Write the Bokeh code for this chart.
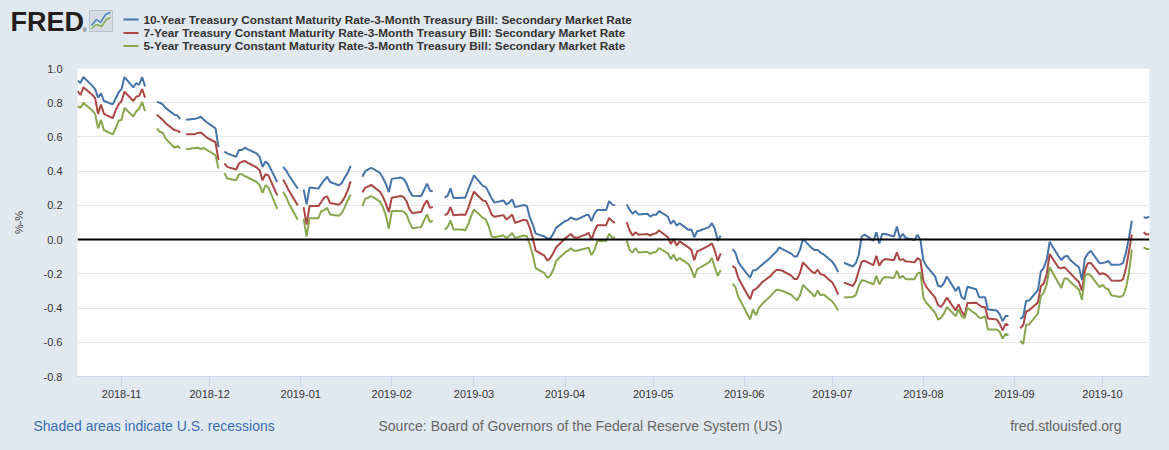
import numpy as np
import pandas as pd
from datetime import datetime
from bokeh.plotting import figure
from bokeh.layouts import column
from bokeh.models import (ColumnDataSource, Range1d, Span, MonthsTicker, FixedTicker,
                          DatetimeTickFormatter, NumeralTickFormatter)
from bokeh.core.properties import value
from bokeh.embed import file_html
from bokeh.resources import INLINE

# ---- data: business-day segments (breaks = bond-market holidays) ----
segments = [("2018-10-17", "2018-11-09"), ("2018-11-13", "2018-11-21"), ("2018-11-23", "2018-12-04"),
            ("2018-12-06", "2018-12-24"), ("2018-12-26", "2018-12-31"), ("2019-01-02", "2019-01-18"),
            ("2019-01-22", "2019-02-15"), ("2019-02-19", "2019-04-18"), ("2019-04-22", "2019-05-24"),
            ("2019-05-28", "2019-07-03"), ("2019-07-05", "2019-08-30"), ("2019-09-03", "2019-10-11"),
            ("2019-10-15", "2019-10-17")]

t10 = [
    [0.93, 0.915, 0.95, 0.90, 0.88, 0.83, 0.855, 0.81, 0.79, 0.825, 0.86, 0.88, 0.95, 0.89, 0.915, 0.905, 0.95, 0.895],
    [0.805, 0.80, 0.79, 0.77, 0.73, 0.725, 0.705],
    [0.70, 0.706, 0.71, 0.718, 0.70, 0.686, 0.65, 0.54],
    [0.514, 0.504, 0.484, 0.524, 0.524, 0.537, 0.527, 0.504, 0.484, 0.425, 0.457, 0.44, 0.337],
    [0.425, 0.405, 0.375, 0.298],
    [0.292, 0.206, 0.304, 0.298, 0.324, 0.347, 0.367, 0.337, 0.318, 0.331, 0.363, 0.39, 0.431],
    [0.367, 0.40, 0.41, 0.42, 0.39, 0.36, 0.325, 0.278, 0.355, 0.363, 0.355, 0.33, 0.285, 0.257, 0.255, 0.29, 0.327, 0.286, 0.282],
    [0.245, 0.255, 0.30, 0.243, 0.245, 0.245, 0.29, 0.333,
     0.376, 0.314, 0.308, 0.275, 0.241, 0.216, 0.229, 0.206, 0.216, 0.235, 0.19, 0.202, 0.196, 0.13, 0.09, 0.035, 0.018, 0.006, 0.006, 0.035, 0.07,
     0.108, 0.114, 0.13, 0.12, 0.117, 0.142, 0.145, 0.108, 0.15, 0.173, 0.173, 0.225, 0.206, 0.2],
    [0.206, 0.175, 0.151, 0.167, 0.147, 0.151, 0.135, 0.145, 0.145, 0.167, 0.135, 0.092, 0.112, 0.082, 0.096, 0.057, 0.059, 0.014, 0.049, 0.053, 0.073, 0.096, 0.063, -0.006, 0.022],
    [-0.056, -0.075, -0.13, -0.157, -0.222, -0.18, -0.178, -0.163, -0.148, -0.104, -0.085, -0.07, -0.045, -0.055,
     -0.082, -0.098, -0.097, -0.06, 0.004, -0.05, -0.061, -0.06, -0.077, -0.085, -0.13, -0.155, -0.19],
    [-0.135, -0.157, -0.137, -0.09, 0.018, 0.029, -0.006, 0.043, -0.022, 0.033, 0.033, 0.018, 0.076, 0.01, 0.033, 0.01,
     -0.002, 0.029, -0.002, -0.122, -0.153, -0.215, -0.27, -0.275, -0.255, -0.215, -0.30, -0.275, -0.335, -0.35, -0.276,
     -0.29, -0.337, -0.337, -0.337, -0.408, -0.414, -0.437, -0.476, -0.447, -0.447],
    [-0.464, -0.45, -0.357, -0.356, -0.295, -0.186, -0.165, -0.117, -0.013, -0.096, -0.119, -0.10, -0.094, -0.119,
     -0.163, -0.236, -0.11, -0.082, -0.065, -0.138, -0.137, -0.133, -0.125, -0.147, -0.145, -0.137, -0.075, 0.01, 0.11],
    [0.131, 0.127, 0.135],
]

t7 = [
    [0.87, 0.845, 0.89, 0.847, 0.827, 0.735, 0.79, 0.735, 0.71, 0.755, 0.79, 0.81, 0.865, 0.81, 0.835, 0.84, 0.88, 0.83],
    [0.73, 0.715, 0.70, 0.68, 0.64, 0.637, 0.627],
    [0.616, 0.616, 0.624, 0.625, 0.612, 0.596, 0.569, 0.465],
    [0.445, 0.425, 0.41, 0.445, 0.455, 0.459, 0.449, 0.421, 0.406, 0.347, 0.382, 0.375, 0.259],
    [0.351, 0.32, 0.285, 0.2],
    [0.19, 0.088, 0.196, 0.196, 0.22, 0.245, 0.253, 0.214, 0.204, 0.22, 0.249, 0.288, 0.341],
    [0.275, 0.304, 0.31, 0.32, 0.28, 0.25, 0.21, 0.161, 0.245, 0.255, 0.249, 0.225, 0.18, 0.155, 0.161, 0.204, 0.229, 0.186, 0.19],
    [0.143, 0.151, 0.19, 0.143, 0.147, 0.143, 0.182, 0.235,
     0.28, 0.229, 0.225, 0.19, 0.147, 0.133, 0.143, 0.118, 0.131, 0.147, 0.098, 0.116, 0.112, 0.069, 0.01, -0.065, -0.094, -0.124, -0.108, -0.078, -0.045,
     0.006, 0.02, 0.033, 0.014, 0.01, 0.029, 0.039, 0.0, 0.049, 0.084, 0.084, 0.127, 0.108, 0.098],
    [0.102, 0.053, 0.024, 0.043, 0.029, 0.033, 0.024, 0.033, 0.037, 0.053, 0.014, -0.025, 0.004, -0.035, -0.01, -0.045, -0.061, -0.12, -0.069, -0.061, -0.035, -0.022, -0.065, -0.124, -0.08],
    [-0.153, -0.167, -0.226, -0.256, -0.349, -0.298, -0.288, -0.271, -0.251, -0.212, -0.192, -0.178, -0.177, -0.182,
     -0.21, -0.23, -0.23, -0.195, -0.133, -0.187, -0.197, -0.176, -0.202, -0.206, -0.251, -0.282, -0.322],
    [-0.251, -0.271, -0.241, -0.182, -0.129, -0.124, -0.149, -0.094, -0.153, -0.124, -0.114, -0.12, -0.075, -0.12, -0.114, -0.127,
     -0.133, -0.108, -0.12, -0.241, -0.276, -0.339, -0.382, -0.394, -0.369, -0.339, -0.414, -0.378, -0.418, -0.447, -0.37,
     -0.369, -0.382, -0.394, -0.394, -0.461, -0.467, -0.492, -0.531, -0.492, -0.50],
    [-0.518, -0.50, -0.42, -0.413, -0.367, -0.273, -0.256, -0.205, -0.084, -0.163, -0.168, -0.161, -0.178, -0.196,
     -0.249, -0.298, -0.18, -0.138, -0.136, -0.202, -0.197, -0.202, -0.217, -0.239, -0.241, -0.232, -0.168, -0.07, 0.03],
    [0.043, 0.029, 0.033],
]

t5 = [
    [0.78, 0.77, 0.80, 0.755, 0.735, 0.65, 0.70, 0.64, 0.615, 0.65, 0.695, 0.70, 0.77, 0.72, 0.75, 0.765, 0.805, 0.75],
    [0.65, 0.63, 0.625, 0.59, 0.537, 0.547, 0.533],
    [0.528, 0.535, 0.537, 0.529, 0.535, 0.524, 0.494, 0.416],
    [0.39, 0.357, 0.347, 0.382, 0.382, 0.371, 0.363, 0.337, 0.318, 0.273, 0.318, 0.305, 0.18],
    [0.28, 0.25, 0.21, 0.116],
    [0.122, 0.018, 0.125, 0.125, 0.167, 0.171, 0.186, 0.147, 0.139, 0.155, 0.19, 0.229, 0.263],
    [0.196, 0.239, 0.245, 0.255, 0.222, 0.19, 0.14, 0.063, 0.167, 0.167, 0.165, 0.147, 0.102, 0.067, 0.073, 0.112, 0.147, 0.102, 0.112],
    [0.059, 0.073, 0.112, 0.059, 0.059, 0.053, 0.088, 0.137,
     0.176, 0.127, 0.118, 0.078, 0.02, 0.014, 0.025, 0.01, 0.02, 0.039, 0.01, 0.024, 0.02, -0.029, -0.088, -0.167, -0.196, -0.225, -0.21, -0.176, -0.124,
     -0.075, -0.065, -0.05, -0.065, -0.065, -0.052, -0.047, -0.09, -0.062, -0.008, -0.008, 0.033, 0.014, 0.01],
    [-0.006, -0.061, -0.075, -0.049, -0.075, -0.071, -0.084, -0.075, -0.071, -0.049, -0.08, -0.114, -0.088, -0.124, -0.108, -0.143, -0.173, -0.222, -0.173, -0.163, -0.133, -0.108, -0.163, -0.212, -0.178],
    [-0.259, -0.278, -0.334, -0.366, -0.467, -0.408, -0.442, -0.40, -0.378, -0.329, -0.31, -0.293, -0.295, -0.30,
     -0.322, -0.339, -0.355, -0.325, -0.265, -0.315, -0.332, -0.298, -0.325, -0.32, -0.362, -0.385, -0.414],
    [-0.339, -0.335, -0.324, -0.271, -0.237, -0.241, -0.261, -0.212, -0.261, -0.231, -0.218, -0.225, -0.182, -0.225, -0.212, -0.231,
     -0.231, -0.198, -0.192, -0.339, -0.369, -0.427, -0.467, -0.457, -0.433, -0.394, -0.447, -0.408, -0.447, -0.461, -0.40,
     -0.437, -0.457, -0.457, -0.447, -0.525, -0.525, -0.539, -0.578, -0.551, -0.559],
    [-0.59, -0.61, -0.498, -0.496, -0.432, -0.33, -0.31, -0.262, -0.161, -0.254, -0.282, -0.228, -0.228, -0.246,
     -0.293, -0.352, -0.213, -0.199, -0.21, -0.278, -0.264, -0.284, -0.29, -0.325, -0.335, -0.327, -0.282, -0.192, -0.058],
    [-0.045, -0.055, -0.055],
]

labels = ["10-Year Treasury Constant Maturity Rate-3-Month Treasury Bill: Secondary Market Rate",
          "7-Year Treasury Constant Maturity Rate-3-Month Treasury Bill: Secondary Market Rate",
          "5-Year Treasury Constant Maturity Rate-3-Month Treasury Bill: Secondary Market Rate"]
colors = ["#4572A7", "#AA4643", "#89A54E"]
y_ticks = [-0.8, -0.6, -0.4, -0.2, 0.0, 0.2, 0.4, 0.6, 0.8, 1.0]
footer_texts = ["Shaded areas indicate U.S. recessions",
                "Source: Board of Governors of the Federal Reserve System (US)",
                "fred.stlouisfed.org"]

# ---- assemble with NaN breaks ----
xs, a10, a7, a5 = [], [], [], []
for (s, e), v10, v7, v5 in zip(segments, t10, t7, t5):
    d = pd.bdate_range(s, e)
    assert len(d) == len(v10) == len(v7) == len(v5), (s, len(d), len(v10), len(v7), len(v5))
    xs.extend(list(d)); a10.extend(v10); a7.extend(v7); a5.extend(v5)
    xs.append(d[-1] + pd.Timedelta(hours=12)); a10.append(np.nan); a7.append(np.nan); a5.append(np.nan)
src = ColumnDataSource(dict(x=pd.to_datetime(xs), y10=a10, y7=a7, y5=a5))

BG = "#e1e9f0"
W = 1169
FONT = "Liberation Sans"


def no_align(f):
    try:
        f.frame_align = False
    except Exception:
        pass


def blank(height):
    f = figure(output_backend="svg", toolbar_location=None, frame_width=W, frame_height=height,
               min_border=0, x_range=Range1d(0, W), y_range=Range1d(height, 0),
               x_axis_location=None, y_axis_location=None)
    f.background_fill_color = BG
    f.border_fill_color = BG
    f.outline_line_color = None
    f.grid.visible = False
    no_align(f)
    return f


# ---- header (logo + legend) ----
HH = 56
head = blank(HH)
head.text(x=[10], y=[21], text=["FRED"], text_font=value(FONT), text_font_size="27px",
          text_font_style="bold", text_color="#231f20", text_baseline="middle")
head.text(x=[82], y=[29], text=["\u00ae"], text_font=value(FONT), text_font_size="6px",
          text_color="#231f20", text_baseline="middle")
head.quad(left=[89], right=[112], top=[10], bottom=[31], fill_color="#d6dce2", line_color="#b9c2cb")
head.line(x=[91, 96, 100, 105, 110], y=[25, 19, 22, 14, 12], line_color="#4a7fc1", line_width=1.5)
head.line(x=[91, 96, 101, 106, 110], y=[28, 24, 26, 19, 17], line_color="#7fae4a", line_width=1.5)
leg_y = [19, 32.5, 45.5]
for yy, c, lab in zip(leg_y, colors, labels):
    head.line(x=[123, 138], y=[yy, yy], line_color=c, line_width=2)
    head.text(x=[143], y=[yy], text=[lab], text_font=value(FONT), text_font_size="11.8px",
              text_font_style="bold", text_color="#333333", text_baseline="middle")

# ---- main chart ----
p = figure(x_axis_type="datetime", output_backend="svg", toolbar_location=None,
           frame_width=1072, frame_height=308,
           min_border_left=77, min_border_right=20, min_border_top=12, min_border_bottom=30,
           x_range=Range1d(datetime(2018, 10, 17), datetime(2019, 10, 17)),
           y_range=Range1d(-0.8, 1.0))
p.background_fill_color = "white"
p.border_fill_color = BG
p.outline_line_color = None
no_align(p)

p.xaxis.ticker = MonthsTicker(months=list(range(12)))
fmt = "%Y-%m"
p.xaxis.formatter = DatetimeTickFormatter(days=fmt, months=fmt, years=fmt)
p.xaxis.axis_line_color = "#ccd6eb"
p.xaxis.major_tick_line_color = "#ccd6eb"
p.xaxis.major_tick_out = 10
p.xaxis.major_tick_in = 0
p.xaxis.minor_tick_line_color = None
p.xaxis.major_label_text_font = FONT
p.xaxis.major_label_text_font_size = "11px"
p.xaxis.major_label_text_color = "#333333"
p.xaxis.major_label_standoff = 3

p.yaxis.ticker = FixedTicker(ticks=y_ticks)
p.yaxis.formatter = NumeralTickFormatter(format="0.0")
p.yaxis.axis_line_color = None
p.yaxis.major_tick_line_color = None
p.yaxis.minor_tick_line_color = None
p.yaxis.major_tick_out = 0
p.yaxis.major_tick_in = 0
p.yaxis.major_label_standoff = 15
p.yaxis.major_label_text_font = FONT
p.yaxis.major_label_text_font_size = "11px"
p.yaxis.major_label_text_color = "#333333"
p.yaxis.axis_label = "%-%"
p.yaxis.axis_label_text_font = FONT
p.yaxis.axis_label_text_font_size = "11px"
p.yaxis.axis_label_text_font_style = "normal"
p.yaxis.axis_label_text_color = "#333333"
p.yaxis.axis_label_standoff = 16

p.xgrid.grid_line_color = None
p.ygrid.ticker = FixedTicker(ticks=y_ticks)
p.ygrid.grid_line_color = "#e6e6e6"
p.ygrid.grid_line_width = 1

for col, c in zip(["y10", "y7", "y5"], colors):
    p.line("x", col, source=src, line_color=c, line_width=2)

p.add_layout(Span(location=0, dimension="width", line_color="black", line_width=2))

# ---- footer ----
FH = 450 - HH - 350
foot = blank(FH)
fy = 425 - (HH + 350)
foot.text(x=[33], y=[fy], text=[footer_texts[0]], text_font=value(FONT), text_font_size="14px",
          text_color="#3a6db0", text_baseline="middle")
foot.text(x=[378], y=[fy], text=[footer_texts[1]], text_font=value(FONT), text_font_size="14px",
          text_color="#666666", text_baseline="middle")
foot.text(x=[1121], y=[fy], text=[footer_texts[2]], text_font=value(FONT), text_font_size="14px",
          text_color="#666666", text_baseline="middle", text_align="right")

layout = column(head, p, foot, spacing=0)
layout.background = BG

html = file_html(layout, INLINE)
html = html.replace("<body>", '<body style="margin:0;background:#e1e9f0;">', 1)
open("out.html", "w").write(html)
